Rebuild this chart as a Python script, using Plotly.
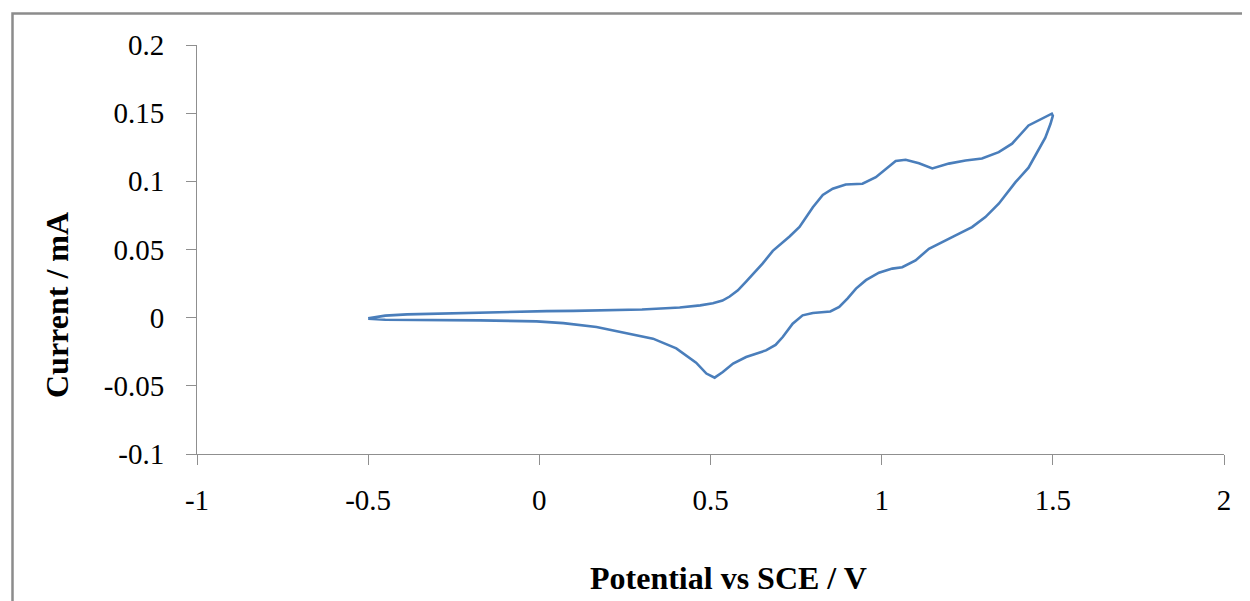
import plotly.graph_objects as go

# Forward (anodic) scan: -0.5 V -> 1.5 V
potential_fwd = [-0.50, -0.45, -0.386, -0.30, -0.192, -0.10, 0.021, 0.10, 0.216, 0.30,
                 0.410, 0.47, 0.507, 0.535, 0.556, 0.580, 0.604, 0.625, 0.652, 0.682,
                 0.710, 0.731, 0.760, 0.780, 0.799, 0.828, 0.857, 0.895, 0.944, 0.983,
                 1.012, 1.041, 1.070, 1.109, 1.148, 1.196, 1.245, 1.293, 1.342, 1.381,
                 1.429, 1.468, 1.497]
current_fwd = [-0.0005, 0.0015, 0.0024, 0.0030, 0.0034, 0.0040, 0.0048, 0.0050, 0.0054, 0.0060,
               0.0075, 0.0090, 0.0105, 0.0125, 0.0155, 0.0200, 0.0265, 0.0320, 0.0396, 0.0490,
               0.0550, 0.0595, 0.0665, 0.0740, 0.0810, 0.0900, 0.0946, 0.0977, 0.0982, 0.1030,
               0.1090, 0.1150, 0.1158, 0.1133, 0.1095, 0.1130, 0.1153, 0.1168, 0.1214, 0.1276,
               0.1410, 0.1460, 0.1496]

# Reverse (cathodic) scan: 1.5 V -> -0.5 V
potential_rev = [1.500, 1.493, 1.478, 1.458, 1.429, 1.391, 1.342, 1.303, 1.264, 1.216,
                 1.177, 1.138, 1.099, 1.060, 1.031, 0.992, 0.954, 0.925, 0.900, 0.876,
                 0.850, 0.820, 0.799, 0.769, 0.740, 0.711, 0.690, 0.662, 0.634, 0.604,
                 0.566, 0.536, 0.512, 0.488, 0.458, 0.429, 0.400, 0.332, 0.264, 0.167,
                 0.070, -0.008, -0.173, -0.30, -0.386, -0.45, -0.50]
current_rev = [0.1480, 0.1420, 0.1320, 0.1227, 0.1100, 0.0994, 0.0836, 0.0738, 0.0664, 0.0603,
               0.0554, 0.0505, 0.0420, 0.0370, 0.0360, 0.0330, 0.0275, 0.0213, 0.0140, 0.0078,
               0.0045, 0.0038, 0.0034, 0.0017, -0.0044, -0.0142, -0.0200, -0.0240, -0.0265, -0.0289,
               -0.0337, -0.0399, -0.0440, -0.0410, -0.0330, -0.0275, -0.0225, -0.0154, -0.0117, -0.0069,
               -0.0040, -0.0027, -0.0020, -0.0018, -0.0020, -0.0015, -0.0008]

x_ticks = [-1, -0.5, 0, 0.5, 1, 1.5, 2]
x_tick_labels = ["-1", "-0.5", "0", "0.5", "1", "1.5", "2"]
y_ticks = [-0.1, -0.05, 0, 0.05, 0.1, 0.15, 0.2]
y_tick_labels = ["-0.1", "-0.05", "0", "0.05", "0.1", "0.15", "0.2"]

x_title = "Potential vs SCE / V"
y_title = "Current / mA"

fig = go.Figure()
fig.add_trace(go.Scatter(
    x=potential_fwd + potential_rev,
    y=current_fwd + current_rev,
    mode="lines",
    line=dict(color="#4A7EBB", width=2.6),
    showlegend=False,
    hoverinfo="x+y",
))

# page body has an 8px margin; figure placed so the plot lands at page pixels
OFF = 8
W, H = 1250 - OFF, 601 - OFF
L, R, T, B = 197 - OFF, 26, 45 - OFF, 147
pw, ph = W - L - R, H - T - B

def px(xp):
    return (xp - OFF - L) / pw

def py(yp):
    return (H - B - (yp - OFF)) / ph

serif = "Liberation Serif, Times New Roman, serif"
axis_common = dict(
    showgrid=False, zeroline=False, showline=True, linecolor="#8f8f8f", linewidth=1,
    ticks="outside", ticklen=10, tickcolor="#8f8f8f", tickwidth=1,
    tickfont=dict(family=serif, size=29, color="#000000"),
)

fig.update_layout(
    width=W, height=H,
    margin=dict(l=L, r=R, t=T, b=B, autoexpand=False),
    paper_bgcolor="white", plot_bgcolor="white",
    xaxis=dict(range=[-1, 2], tickvals=x_ticks, ticktext=x_tick_labels,
               ticklabelstandoff=10, **axis_common),
    yaxis=dict(range=[-0.1, 0.2], tickvals=y_ticks, ticktext=y_tick_labels,
               ticklabelstandoff=16, **axis_common),
    shapes=[dict(type="rect", xref="paper", yref="paper",
                 x0=px(12.5), x1=px(1300), y0=py(660), y1=py(13.5),
                 line=dict(color="#8c8c8c", width=2.5), fillcolor="rgba(0,0,0,0)", layer="below")],
    annotations=[
        dict(text="<b>" + x_title + "</b>", xref="paper", yref="paper",
             x=px(728), y=py(578), xanchor="center", yanchor="middle", showarrow=False,
             font=dict(family=serif, size=32, color="#000000")),
        dict(text="<b>" + y_title + "</b>", xref="paper", yref="paper", textangle=-90,
             x=px(57), y=py(305), xanchor="center", yanchor="middle", showarrow=False,
             font=dict(family=serif, size=32, color="#000000")),
    ],
)

fig.write_html("out.html")
